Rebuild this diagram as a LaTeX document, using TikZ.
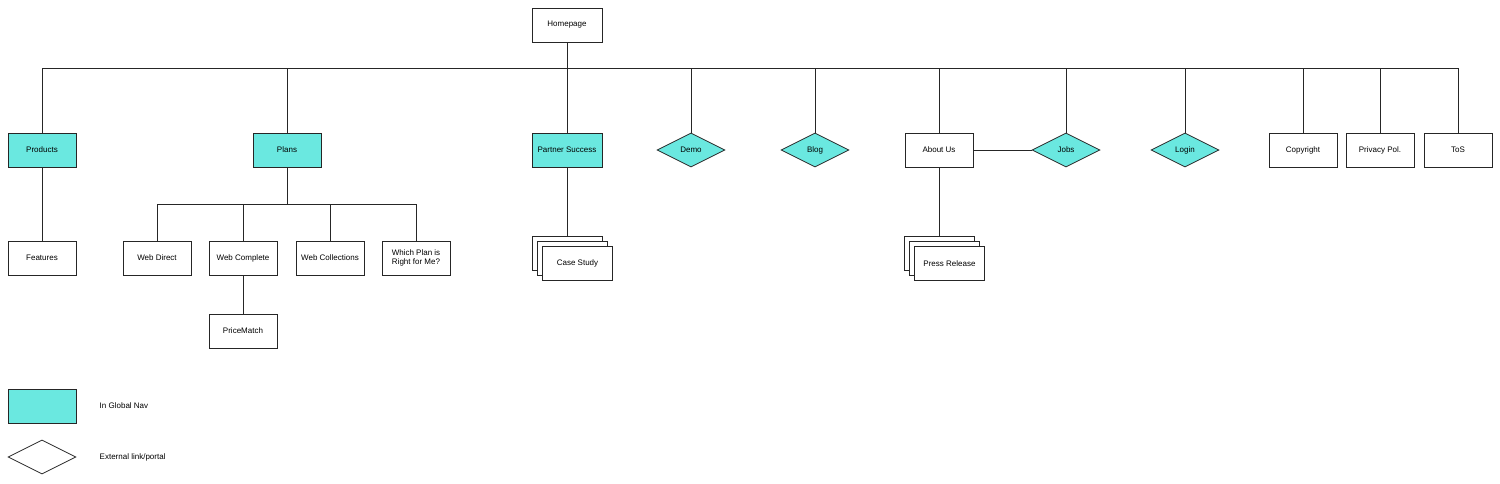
\documentclass[tikz,border=0pt]{standalone}
\usepackage{fontspec}
\setmainfont{Liberation Sans}
\usetikzlibrary{shapes.geometric, positioning}

\begin{document}
\begin{tikzpicture}[x=1pt, y=-1pt, line width=0.8pt,
    page/.style={draw=black!85, fill=white, minimum width=68pt, minimum height=34pt,
        inner sep=1pt, align=center, font=\fontsize{8}{9.5}\selectfont},
    navpage/.style={page, fill=navcyan},
    extlink/.style={page, diamond, aspect=2, fill=navcyan},
    link/.style={draw=black!85}]
    % Colours
    \definecolor{navcyan}{RGB}{106,232,224}
    \useasboundingbox (0,0) rectangle (1500,483);

    % Homepage
    \node[page, minimum width=70pt] (home) at (567,25) {Homepage};

    % First level
    \node[navpage] (prod) at (42,150) {Products};
    \node[navpage] (plans) at (287,150) {Plans};
    \node[navpage, minimum width=70pt] (ps) at (567,150) {Partner Success};
    \node[extlink] (demo) at (691,150) {Demo};
    \node[extlink] (blog) at (815,150) {Blog};
    \node[page] (about) at (939,150) {About Us};
    \node[extlink] (jobs) at (1066,150) {Jobs};
    \node[extlink] (login) at (1185,150) {Login};
    \node[page] (copy) at (1303,150) {Copyright};
    \node[page] (priv) at (1380,150) {Privacy Pol.};
    \node[page] (tos) at (1458,150) {ToS};

    % Second level
    \node[page] (feat) at (42,258) {Features};
    \node[page] (wdir) at (157,258) {Web Direct};
    \node[page] (wcom) at (243,258) {Web Complete};
    \node[page] (wcol) at (330,258) {Web Collections};
    \node[page] (wright) at (416,258) {Which Plan is\\Right for Me?};
    \node[page] (price) at (243,331) {PriceMatch};

    % Stacked pages
    \node[page, minimum width=70pt] (csback) at (567,253.5) {};
    \node[page, minimum width=70pt] (csmid) at (572.5,258.5) {};
    \node[page, minimum width=70pt] (cs) at (577.5,263.5) {Case Study};
    \node[page, minimum width=70pt] (prback) at (939.5,253.5) {};
    \node[page, minimum width=70pt] (prmid) at (944.5,258.5) {};
    \node[page, minimum width=70pt] (pr) at (949.5,263.5) {Press Release};

    % Connectors
    \coordinate (busL) at (42,68);
    \coordinate (busR) at (1458,68);
    \draw[link] (busL) -- (busR);
    \draw[link] (home.south) -- (ps.north);
    \foreach \n in {prod,plans,demo,blog,about,jobs,login,copy,priv,tos}
        \draw[link] (\n.north) -- (\n.north |- busL);
    \draw[link] (prod.south) -- (feat.north);
    \coordinate (planbus) at (287,204);
    \draw[link] (plans.south) -- (planbus);
    \draw[link] (wdir.north) -- (wdir.north |- planbus) -- (wright.north |- planbus) -- (wright.north);
    \draw[link] (wcom.north) -- (wcom.north |- planbus);
    \draw[link] (wcol.north) -- (wcol.north |- planbus);
    \draw[link] (wcom.south) -- (price.north);
    \draw[link] (ps.south) -- (csback.north);
    \draw[link] (about.south) -- (about.south |- prback.north);
    \draw[link] (about.east) -- (jobs.west);

    % Legend
    \node[navpage] (keynav) at (42,406) {};
    \node[extlink, fill=white] (keyext) at (42,457) {};
    \node[anchor=west, font=\fontsize{8}{9.5}\selectfont] (keynavtxt) at (96,406) {In Global Nav};
    \node[anchor=west, font=\fontsize{8}{9.5}\selectfont] (keyexttxt) at (96,457) {External link/portal};
\end{tikzpicture}
\end{document}
